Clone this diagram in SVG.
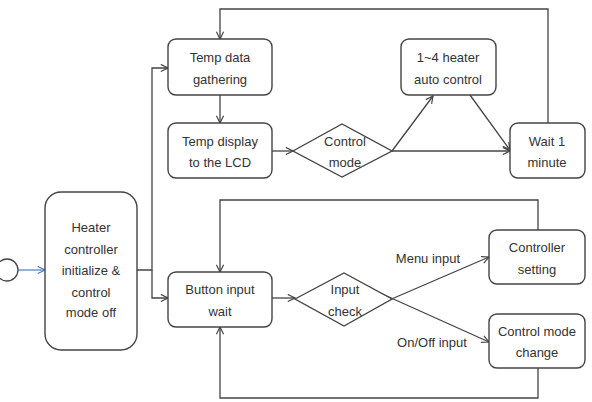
<svg xmlns="http://www.w3.org/2000/svg" width="592" height="402" viewBox="0 0 592 402">
<defs>
<style>
.box{fill:#fff;stroke:#444;stroke-width:1.4}
.ln{fill:none;stroke:#444;stroke-width:1.3}
.t{font-family:"Liberation Sans",Arial,sans-serif;font-size:13px;fill:#333;text-anchor:middle}
</style>
<marker id="ah" viewBox="0 0 10 10" refX="9" refY="5" markerWidth="9" markerHeight="9" markerUnits="userSpaceOnUse" orient="auto">
<path d="M1,1 L9,5 L1,9" fill="none" stroke="#444" stroke-width="1.3"/>
</marker>
<marker id="ahb" viewBox="0 0 10 10" refX="9" refY="5" markerWidth="9" markerHeight="9" markerUnits="userSpaceOnUse" orient="auto">
<path d="M1,1 L9,5 L1,9" fill="none" stroke="#4a7fc1" stroke-width="1.3"/>
</marker>
</defs>
<rect width="592" height="402" fill="#fff"/>
<g id="connectors">
<line x1="18" y1="270" x2="45" y2="270" stroke="#4a7fc1" stroke-width="1.2" marker-end="url(#ahb)"/>
<polyline class="ln" points="137,270 152,270 152,68 168,68" marker-end="url(#ah)"/>
<polyline class="ln" points="152,270 152,298 168,298" marker-end="url(#ah)"/>
<line class="ln" x1="220" y1="95" x2="220" y2="123" marker-end="url(#ah)"/>
<line class="ln" x1="272" y1="151" x2="293" y2="151" marker-end="url(#ah)"/>
<line class="ln" x1="392" y1="151" x2="433" y2="96" marker-end="url(#ah)"/>
<line class="ln" x1="392" y1="151" x2="510" y2="151" marker-end="url(#ah)"/>
<line class="ln" x1="470" y1="95" x2="510" y2="150" marker-end="url(#ah)"/>
<polyline class="ln" points="548,123 548,9 220,9 220,39" marker-end="url(#ah)"/>
<line class="ln" x1="272" y1="298" x2="295" y2="298" marker-end="url(#ah)"/>
<line class="ln" x1="380" y1="304" x2="489" y2="257" marker-end="url(#ah)"/>
<line class="ln" x1="380" y1="293" x2="489" y2="342" marker-end="url(#ah)"/>
<polyline class="ln" points="538,230 538,200 220,200 220,272" marker-end="url(#ah)"/>
<polyline class="ln" points="538,368 538,398 220,398 220,327" marker-end="url(#ah)"/>
<text class="t" x="428" y="263">Menu input</text>
<text class="t" x="432" y="347">On/Off input</text>
</g>
<g id="start"><circle cx="7" cy="270" r="11" fill="#fff" stroke="#444" stroke-width="1.3"/></g>
<g id="init">
<rect class="box" x="45" y="192" width="92" height="158" rx="16"/>
<text class="t" x="91" y="232">Heater</text>
<text class="t" x="91" y="254">controller</text>
<text class="t" x="91" y="275">initialize &amp;</text>
<text class="t" x="91" y="297">control</text>
<text class="t" x="91" y="317">mode off</text>
</g>
<g id="gather">
<rect class="box" x="168" y="39" width="104" height="56" rx="8"/>
<text class="t" x="220" y="62">Temp data</text>
<text class="t" x="220" y="84">gathering</text>
</g>
<g id="display">
<rect class="box" x="168" y="123" width="104" height="55" rx="8"/>
<text class="t" x="220" y="146">Temp display</text>
<text class="t" x="220" y="167">to the LCD</text>
</g>
<g id="controlmode">
<polygon class="box" points="293,151 342,124 392,151 342,177"/>
<text class="t" x="345" y="146">Control</text>
<text class="t" x="345" y="167">mode</text>
</g>
<g id="heater">
<rect class="box" x="401" y="39" width="95" height="56" rx="8"/>
<text class="t" x="448" y="62">1~4 heater</text>
<text class="t" x="448" y="84">auto control</text>
</g>
<g id="wait">
<rect class="box" x="510" y="123" width="75" height="55" rx="8"/>
<text class="t" x="547" y="146">Wait 1</text>
<text class="t" x="547" y="167">minute</text>
</g>
<g id="button">
<rect class="box" x="168" y="272" width="104" height="55" rx="8"/>
<text class="t" x="220" y="294">Button input</text>
<text class="t" x="220" y="316">wait</text>
</g>
<g id="inputcheck">
<polygon class="box" points="295,299 344,273 392,299 344,326"/>
<text class="t" x="345" y="294">Input</text>
<text class="t" x="345" y="316">check</text>
</g>
<g id="setting">
<rect class="box" x="489" y="230" width="96" height="54" rx="8"/>
<text class="t" x="537" y="252">Controller</text>
<text class="t" x="537" y="274">setting</text>
</g>
<g id="modechange">
<rect class="box" x="489" y="314" width="96" height="54" rx="8"/>
<text class="t" x="537" y="336">Control mode</text>
<text class="t" x="537" y="357">change</text>
</g>
</svg>
